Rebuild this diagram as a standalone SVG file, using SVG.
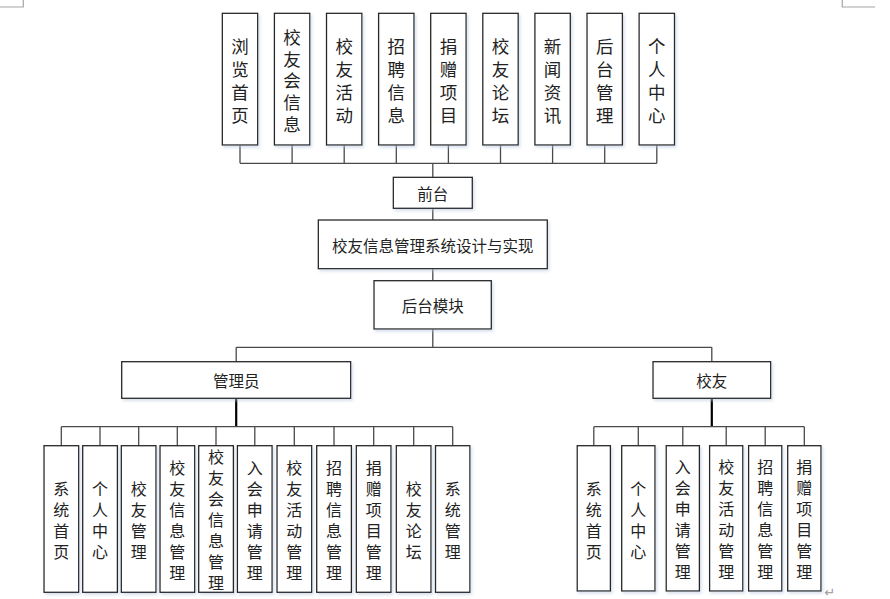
<svg xmlns="http://www.w3.org/2000/svg" width="890" height="599" viewBox="0 0 890 599">
<style>
.box{fill:#fff;stroke:#262626;stroke-width:1.3;filter:url(#sh)}
.t{font-family:"Noto Sans CJK SC","Noto Sans",sans-serif;fill:#222;text-anchor:middle;dominant-baseline:central}
.v1{font-size:17.5px}
.v2{font-size:16px}
.h{font-size:15.5px}
.c{fill:none;stroke:#4a4a4a;stroke-width:1.3}
.k{fill:none;stroke:#000;stroke-width:2.2}
.m{fill:none;stroke:#a6a6a6;stroke-width:1.2}
</style>
<defs>
<filter id="sh" x="-20%" y="-20%" width="140%" height="140%">
<feDropShadow dx="1.5" dy="2" stdDeviation="1.5" flood-color="#b8c8e0" flood-opacity="0.55"/>
</filter>
</defs>
<rect width="890" height="599" fill="#fff"/>
<g id="pagemarks">
<path class="m" d="M23.3 0V7H0M842.3 0V7H875"/>
<text x="830" y="597" font-family="'DejaVu Sans',sans-serif" font-size="13" fill="#9a9a9a" text-anchor="middle">↵</text>
</g>
<g id="connectors">
<path class="c" d="M240 145V163.3M292.1 145V163.3M344.2 145V163.3M396.3 145V163.3M448.4 145V163.3M500.5 145V163.3M552.6 145V163.3M604.7 145V163.3M656.8 145V163.3M240 163.3H656.8M432.8 163.3V177.3"/>
<path class="c" d="M432.8 208.3V220M432.8 268.7V280.7M432.8 329V347.3M236.2 347.3H711.8M236.2 347.3V361.7M711.8 347.3V361.7"/>
<path class="k" d="M236.2 398.3V426.7M711.8 398.3V426.7"/>
<path class="c" d="M61.3 426.7H452.7M61.3 426.7V445.7M100 426.7V445.7M138.7 426.7V445.7M177.3 426.7V445.7M216 426.7V445.7M254.8 426.7V445.7M294.3 426.7V445.7M334 426.7V445.7M373.7 426.7V445.7M413.7 426.7V445.7M452.7 426.7V445.7"/>
<path class="c" d="M593.8 426.7H804.3M593.8 426.7V445.7M638.3 426.7V445.7M682.8 426.7V445.7M726.2 426.7V445.7M765.2 426.7V445.7M804.3 426.7V445.7"/>
</g>
<g id="n_liulan"><rect class="box" x="222.3" y="13.3" width="35.4" height="131.7"/><text class="t v1"><tspan x="240" y="44.7">浏</tspan><tspan x="240" y="67.7">览</tspan><tspan x="240" y="90.7">首</tspan><tspan x="240" y="113.7">页</tspan></text></g>
<g id="n_xiaoyouhui"><rect class="box" x="274.4" y="13.3" width="35.4" height="131.7"/><text class="t v1"><tspan x="292.1" y="35.8">校</tspan><tspan x="292.1" y="57.5">友</tspan><tspan x="292.1" y="79.2">会</tspan><tspan x="292.1" y="100.9">信</tspan><tspan x="292.1" y="122.6">息</tspan></text></g>
<g id="n_huodong"><rect class="box" x="326.5" y="13.3" width="35.4" height="131.7"/><text class="t v1"><tspan x="344.2" y="44.7">校</tspan><tspan x="344.2" y="67.7">友</tspan><tspan x="344.2" y="90.7">活</tspan><tspan x="344.2" y="113.7">动</tspan></text></g>
<g id="n_zhaopin"><rect class="box" x="378.6" y="13.3" width="35.4" height="131.7"/><text class="t v1"><tspan x="396.3" y="44.7">招</tspan><tspan x="396.3" y="67.7">聘</tspan><tspan x="396.3" y="90.7">信</tspan><tspan x="396.3" y="113.7">息</tspan></text></g>
<g id="n_juanzeng"><rect class="box" x="430.7" y="13.3" width="35.4" height="131.7"/><text class="t v1"><tspan x="448.4" y="44.7">捐</tspan><tspan x="448.4" y="67.7">赠</tspan><tspan x="448.4" y="90.7">项</tspan><tspan x="448.4" y="113.7">目</tspan></text></g>
<g id="n_luntan"><rect class="box" x="482.8" y="13.3" width="35.4" height="131.7"/><text class="t v1"><tspan x="500.5" y="44.7">校</tspan><tspan x="500.5" y="67.7">友</tspan><tspan x="500.5" y="90.7">论</tspan><tspan x="500.5" y="113.7">坛</tspan></text></g>
<g id="n_xinwen"><rect class="box" x="534.9" y="13.3" width="35.4" height="131.7"/><text class="t v1"><tspan x="552.6" y="44.7">新</tspan><tspan x="552.6" y="67.7">闻</tspan><tspan x="552.6" y="90.7">资</tspan><tspan x="552.6" y="113.7">讯</tspan></text></g>
<g id="n_houtai"><rect class="box" x="587" y="13.3" width="35.4" height="131.7"/><text class="t v1"><tspan x="604.7" y="44.7">后</tspan><tspan x="604.7" y="67.7">台</tspan><tspan x="604.7" y="90.7">管</tspan><tspan x="604.7" y="113.7">理</tspan></text></g>
<g id="n_geren"><rect class="box" x="639.1" y="13.3" width="35.4" height="131.7"/><text class="t v1"><tspan x="656.8" y="44.7">个</tspan><tspan x="656.8" y="67.7">人</tspan><tspan x="656.8" y="90.7">中</tspan><tspan x="656.8" y="113.7">心</tspan></text></g>
<g id="n_qiantai"><rect class="box" x="393.3" y="177.3" width="79" height="31"/><text class="t h" x="432.8" y="193">前台</text></g>
<g id="n_system"><rect class="box" x="318.3" y="220" width="229" height="48.7"/><text class="t h" x="432.8" y="244.5">校友信息管理系统设计与实现</text></g>
<g id="n_houtaimokuai"><rect class="box" x="374" y="280.7" width="117.3" height="48.3"/><text class="t h" x="432.7" y="305">后台模块</text></g>
<g id="n_admin"><rect class="box" x="121.7" y="361.7" width="229" height="36.6"/><text class="t h" x="236.2" y="380">管理员</text></g>
<g id="n_alumni"><rect class="box" x="653" y="361.7" width="117.7" height="36.6"/><text class="t h" x="711.8" y="380">校友</text></g>
<g id="a_xitongshouye"><rect class="box" x="44" y="445.7" width="34.7" height="146.6"/><text class="t v2"><tspan x="61.3" y="487.5">系</tspan><tspan x="61.3" y="508.5">统</tspan><tspan x="61.3" y="529.5">首</tspan><tspan x="61.3" y="550.5">页</tspan></text></g>
<g id="a_geren"><rect class="box" x="82.7" y="445.7" width="34.7" height="146.6"/><text class="t v2"><tspan x="100" y="487.5">个</tspan><tspan x="100" y="508.5">人</tspan><tspan x="100" y="529.5">中</tspan><tspan x="100" y="550.5">心</tspan></text></g>
<g id="a_xiaoyou"><rect class="box" x="121.3" y="445.7" width="34.7" height="146.6"/><text class="t v2"><tspan x="138.7" y="487.5">校</tspan><tspan x="138.7" y="508.5">友</tspan><tspan x="138.7" y="529.5">管</tspan><tspan x="138.7" y="550.5">理</tspan></text></g>
<g id="a_xinxi"><rect class="box" x="160" y="445.7" width="34.7" height="146.6"/><text class="t v2"><tspan x="177.3" y="466.5">校</tspan><tspan x="177.3" y="487.5">友</tspan><tspan x="177.3" y="508.5">信</tspan><tspan x="177.3" y="529.5">息</tspan><tspan x="177.3" y="550.5">管</tspan><tspan x="177.3" y="571.5">理</tspan></text></g>
<g id="a_huixinxi"><rect class="box" x="198.7" y="445.7" width="34.7" height="146.6"/><text class="t v2"><tspan x="216" y="456">校</tspan><tspan x="216" y="477">友</tspan><tspan x="216" y="498">会</tspan><tspan x="216" y="519">信</tspan><tspan x="216" y="540">息</tspan><tspan x="216" y="561">管</tspan><tspan x="216" y="582">理</tspan></text></g>
<g id="a_ruhui"><rect class="box" x="237.4" y="445.7" width="34.7" height="146.6"/><text class="t v2"><tspan x="254.8" y="466.5">入</tspan><tspan x="254.8" y="487.5">会</tspan><tspan x="254.8" y="508.5">申</tspan><tspan x="254.8" y="529.5">请</tspan><tspan x="254.8" y="550.5">管</tspan><tspan x="254.8" y="571.5">理</tspan></text></g>
<g id="a_huodong"><rect class="box" x="277" y="445.7" width="34.7" height="146.6"/><text class="t v2"><tspan x="294.3" y="466.5">校</tspan><tspan x="294.3" y="487.5">友</tspan><tspan x="294.3" y="508.5">活</tspan><tspan x="294.3" y="529.5">动</tspan><tspan x="294.3" y="550.5">管</tspan><tspan x="294.3" y="571.5">理</tspan></text></g>
<g id="a_zhaopin"><rect class="box" x="316.7" y="445.7" width="34.7" height="146.6"/><text class="t v2"><tspan x="334" y="466.5">招</tspan><tspan x="334" y="487.5">聘</tspan><tspan x="334" y="508.5">信</tspan><tspan x="334" y="529.5">息</tspan><tspan x="334" y="550.5">管</tspan><tspan x="334" y="571.5">理</tspan></text></g>
<g id="a_juanzeng"><rect class="box" x="356.3" y="445.7" width="34.7" height="146.6"/><text class="t v2"><tspan x="373.7" y="466.5">捐</tspan><tspan x="373.7" y="487.5">赠</tspan><tspan x="373.7" y="508.5">项</tspan><tspan x="373.7" y="529.5">目</tspan><tspan x="373.7" y="550.5">管</tspan><tspan x="373.7" y="571.5">理</tspan></text></g>
<g id="a_luntan"><rect class="box" x="396.3" y="445.7" width="34.7" height="146.6"/><text class="t v2"><tspan x="413.7" y="487.5">校</tspan><tspan x="413.7" y="508.5">友</tspan><tspan x="413.7" y="529.5">论</tspan><tspan x="413.7" y="550.5">坛</tspan></text></g>
<g id="a_xitong"><rect class="box" x="435.5" y="445.7" width="34.4" height="146.6"/><text class="t v2"><tspan x="452.7" y="487.5">系</tspan><tspan x="452.7" y="508.5">统</tspan><tspan x="452.7" y="529.5">管</tspan><tspan x="452.7" y="550.5">理</tspan></text></g>
<g id="u_xitongshouye"><rect class="box" x="577.2" y="445.7" width="33.2" height="145.3"/><text class="t v2"><tspan x="593.8" y="487.5">系</tspan><tspan x="593.8" y="508.5">统</tspan><tspan x="593.8" y="529.5">首</tspan><tspan x="593.8" y="550.5">页</tspan></text></g>
<g id="u_geren"><rect class="box" x="621.7" y="445.7" width="33.3" height="145.3"/><text class="t v2"><tspan x="638.3" y="487.5">个</tspan><tspan x="638.3" y="508.5">人</tspan><tspan x="638.3" y="529.5">中</tspan><tspan x="638.3" y="550.5">心</tspan></text></g>
<g id="u_ruhui"><rect class="box" x="666.2" y="445.7" width="33.2" height="145.3"/><text class="t v2"><tspan x="682.8" y="466">入</tspan><tspan x="682.8" y="487">会</tspan><tspan x="682.8" y="508">申</tspan><tspan x="682.8" y="529">请</tspan><tspan x="682.8" y="550">管</tspan><tspan x="682.8" y="571">理</tspan></text></g>
<g id="u_huodong"><rect class="box" x="709.6" y="445.7" width="33.2" height="145.3"/><text class="t v2"><tspan x="726.2" y="466">校</tspan><tspan x="726.2" y="487">友</tspan><tspan x="726.2" y="508">活</tspan><tspan x="726.2" y="529">动</tspan><tspan x="726.2" y="550">管</tspan><tspan x="726.2" y="571">理</tspan></text></g>
<g id="u_zhaopin"><rect class="box" x="748.6" y="445.7" width="33.2" height="145.3"/><text class="t v2"><tspan x="765.2" y="466">招</tspan><tspan x="765.2" y="487">聘</tspan><tspan x="765.2" y="508">信</tspan><tspan x="765.2" y="529">息</tspan><tspan x="765.2" y="550">管</tspan><tspan x="765.2" y="571">理</tspan></text></g>
<g id="u_juanzeng"><rect class="box" x="787.7" y="445.7" width="33.3" height="145.3"/><text class="t v2"><tspan x="804.3" y="466">捐</tspan><tspan x="804.3" y="487">赠</tspan><tspan x="804.3" y="508">项</tspan><tspan x="804.3" y="529">目</tspan><tspan x="804.3" y="550">管</tspan><tspan x="804.3" y="571">理</tspan></text></g>
</svg>
